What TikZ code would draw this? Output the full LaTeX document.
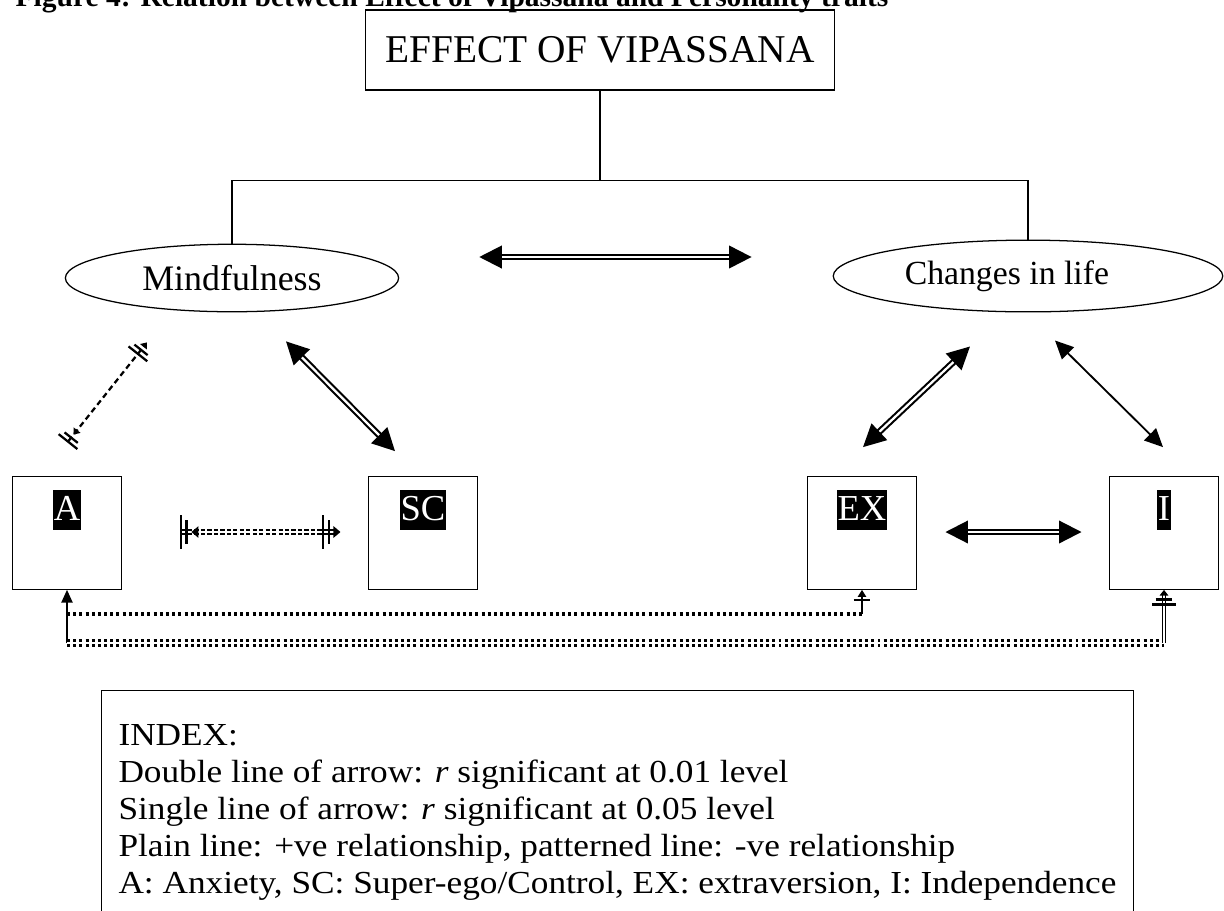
\documentclass[tikz,border=0pt]{standalone}
\usepackage{fontspec}
\setmainfont{Liberation Serif}
\newfontfamily\indexfont[FakeStretch=1.1]{Liberation Serif}
\usetikzlibrary{arrows.meta,shapes.geometric,calc}
\tikzset{
  hatchS/.tip={Triangle[length=5pt,width=8pt,sep=2.4pt] Bar[width=17pt,line width=1.8pt,sep=2.4pt] Bar[width=24pt,line width=1.8pt,sep=1.5pt]},
  hatchE/.tip={Bar[width=24pt,line width=1.8pt,sep=2.4pt] Bar[width=17pt,line width=1.8pt,sep=2.4pt] Triangle[length=5pt,width=8pt]},
  thinS/.tip={Triangle[length=4pt,width=6pt,sep=2pt] Bar[width=12pt,line width=1.6pt,sep=2pt] Bar[width=17pt,line width=1.6pt,sep=1.5pt]},
  thinE/.tip={Bar[width=17pt,line width=1.6pt,sep=2pt] Bar[width=12pt,line width=1.6pt,sep=2pt] Triangle[length=4pt,width=6pt]},
  stubE/.tip={Bar[width=12pt,line width=1.2pt,sep=1.8pt] Triangle[length=5pt,width=6pt]},
  bighead/.tip={Triangle[length=16pt,width=16pt]},
  smallhead/.tip={Triangle[length=13pt,width=12pt]},
  trait/.style={draw,line width=.9pt,minimum width=78pt,minimum height=80pt},
  tag/.style={fill=black,text=white,inner xsep=.6pt,inner ysep=0pt,text height=22pt,text depth=7pt,font=\fontsize{26}{30}\selectfont},
  oval/.style={draw,ellipse,line width=.9pt,inner sep=0pt},
  dblarrow/.style={double,double distance=1.6pt,line width=1.5pt,arrows={bighead-bighead}},
  sglarrow/.style={line width=1.3pt,arrows={smallhead-smallhead}},
  dashdbl/.style={double,double distance=2pt,line width=1.4pt,dash pattern=on 3pt off 1.6pt,arrows={hatchS-hatchE}},
  dashsgl/.style={line width=1.6pt,dash pattern=on 4pt off 2.6pt,arrows={thinS-thinE}},
  dotrow/.style={line width=2.4pt,dash pattern=on 2.1pt off 2.3pt},
  dotdbl/.style={double,double distance=1pt,line width=2.3pt,dash pattern=on 2.1pt off 2.3pt}
}
\begin{document}
\begin{tikzpicture}[x=0.025cm,y=-0.025cm,line width=.9pt]
\useasboundingbox (0,0) rectangle (1224,910);
\clip (0,0) rectangle (1224,910);
%caption, cut at the top
\node[anchor=base west,font=\bfseries\fontsize{21}{25}\selectfont,inner sep=0pt] (title) at (15,6) {Figure 4: Relation between Effect of Vipassana and Personality traits};
%top of the tree
\node[draw,minimum width=334pt,minimum height=57pt,font=\fontsize{28}{32}\selectfont] (effect) at (600,50) {EFFECT OF VIPASSANA};
\node[oval,minimum width=237pt,minimum height=48pt,font=\fontsize{25.5}{29}\selectfont] (mind) at (232,278) {Mindfulness};
\node[oval,minimum width=277pt,minimum height=51pt,font=\fontsize{24}{28}\selectfont] (life) at (1028,276) {Changes in life\kern 30pt};
\draw (effect.south) -- ++(0,90) coordinate (fork);
\draw (mind.north) |- (fork) -| (life.north);
%personality traits
\node[trait] (A) at (67,533) {};
\node[trait] (SC) at (423,533) {};
\node[trait] (EX) at (862,533) {};
\node[trait] (I) at (1164,533) {};
\node[tag] (tA) at (67,510) {A};
\node[tag] (tSC) at (423,510) {SC};
\node[tag] (tEX) at (862,510) {EX};
\node[tag] (tI) at (1164,510) {I};
%correlations
\draw[dblarrow] ($(mind.east)+(80,-21)$) -- ($(life.west)+(-81,-19)$);
\draw[dblarrow] ($(mind.south)+(54,29)$) -- ($(SC.north)+(-28,-25)$);
\draw[dashsgl] ($(A.north)+(-1,-32)$) -- ($(mind.south)+(-85,30)$);
\draw[dashdbl] ($(A.east)+(55,-1)$) -- ($(SC.west)+(-27,-1)$);
\draw[dblarrow] ($(EX.north)+(1,-29)$) -- ($(life.south)+(-58,34)$);
\draw[sglarrow] ($(life.south)+(27,28)$) -- ($(I.north)+(-1,-29)$);
\draw[dblarrow] ($(EX.east)+(28,-1)$) -- ($(I.west)+(-27,-1)$);
%lines under the boxes
\coordinate (aMid) at ($(A.south)+(0,24)$);
\coordinate (aLow) at ($(A.south)+(0,53)$);
\draw[line width=.8pt,-{Triangle[length=9pt,width=8pt]}] (aLow) -- (A.south);
\draw[dotrow] (aMid) -- (aMid -| EX.south);
\draw[line width=.8pt,-stubE] (aMid -| EX.south) -- (EX.south);
\draw[dotdbl] (aLow) -- (aLow -| I.south);
\draw[double,double distance=1.8pt,line width=.8pt,-thinE] (aLow -| I.south) -- (I.south);
%index
\node[draw,anchor=north west,align=left,minimum width=733pt,inner xsep=12pt,inner ysep=24pt,font=\indexfont\fontsize{22.8}{26.4}\selectfont] (index) at (101,690) {INDEX:\\
Double line of arrow: \textit{r} significant at 0.01 level\\
Single line of arrow: \textit{r} significant at 0.05 level\\
Plain line: +ve relationship, patterned line: -ve relationship\\
A: Anxiety, SC: Super-ego/Control, EX: extraversion, I: Independence\rule[-12pt]{0pt}{1pt}};
\end{tikzpicture}
\end{document}
